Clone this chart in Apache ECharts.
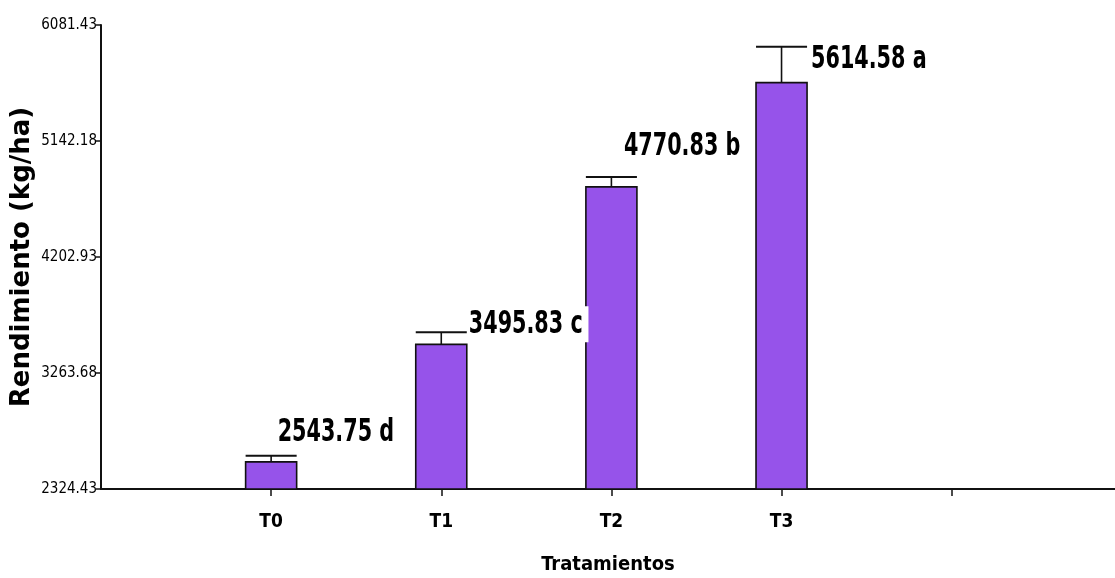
<!DOCTYPE html>
<html>
<head>
<meta charset="utf-8">
<script src="https://cdn.jsdelivr.net/npm/echarts@6/dist/echarts.min.js"></script>
<style>html,body{margin:0;padding:0;background:#fff;}#c{width:1115px;height:578px;}</style>
</head>
<body>
<div id="c"></div>
<script>
// ---- data ----
var categories = ['T0', 'T1', 'T2', 'T3'];
var categoryPos = [1, 2, 3, 4];
var means = [2543.75, 3495.83, 4770.83, 5614.58];
var errors = [49, 97, 80, 290];
var letters = ['d', 'c', 'b', 'a'];
var yTicks = [2324.43, 3263.68, 4202.93, 5142.18, 6081.43];
var xTicks = [1, 2, 3, 4, 5];

// ---- presentation ----
var NARROW = '"Liberation Sans Narrow", "DejaVu Sans Condensed", "Arial Narrow", sans-serif';
var barHalf = 0.15;
var labelOffsets = [[-19, -23], [2, -8], [-13, -30], [4, 13]];

var chart = echarts.init(document.getElementById('c'), null, {renderer: 'canvas'});

var seriesData = categoryPos.map(function (p, i) { return [p, means[i], errors[i], i]; });

chart.setOption({
  animation: false,
  backgroundColor: '#ffffff',
  grid: {left: 101, right: 0, top: 25, bottom: 89, containLabel: false, outerBoundsMode: 'none'},
  xAxis: {
    type: 'value',
    min: 0, max: 5.96,
    splitLine: {show: false},
    axisLine: {show: true, lineStyle: {color: '#111', width: 2}},
    axisTick: {show: true, customValues: xTicks, length: 7, lineStyle: {color: '#111', width: 1.5}},
    axisLabel: {
      customValues: categoryPos,
      margin: 24,
      fontFamily: NARROW, fontWeight: 'bold', fontSize: 19, color: '#000',
      formatter: function (v) { var k = categoryPos.indexOf(v); return k >= 0 ? categories[k] : ''; }
    },
    name: 'Tratamientos',
    nameLocation: 'middle',
    nameGap: 66,
    nameMoveOverlap: false,
    nameTextStyle: {fontFamily: NARROW, fontWeight: 'bold', fontSize: 20, color: '#000'}
  },
  yAxis: {
    type: 'value',
    min: yTicks[0], max: yTicks[yTicks.length - 1],
    splitLine: {show: false},
    axisLine: {show: true, lineStyle: {color: '#111', width: 2}},
    axisTick: {show: true, customValues: yTicks, length: 5, lineStyle: {color: '#111', width: 1.5}},
    axisLabel: {
      customValues: yTicks,
      margin: 4,
      fontFamily: NARROW, fontSize: 15, color: '#000',
      formatter: function (v) { return v.toFixed(2); }
    },
    name: 'Rendimiento (kg/ha)',
    nameLocation: 'middle',
    nameGap: 66,
    nameMoveOverlap: false,
    nameTextStyle: {fontFamily: '"DejaVu Sans", sans-serif', fontWeight: 'bold', fontSize: 26, color: '#000'}
  },
  series: [{
    type: 'custom',
    data: seriesData,
    clip: false,
    renderItem: function (params, api) {
      var x = api.value(0), m = api.value(1), e = api.value(2), i = api.value(3);
      var bl = api.coord([x - barHalf, m]);
      var br = api.coord([x + barHalf, yTicks[0]]);
      var top = api.coord([x, m + e]);
      var capL = api.coord([x - barHalf, m + e]);
      var capR = api.coord([x + barHalf, m + e]);
      var off = labelOffsets[i];
      return {
        type: 'group',
        children: [
          {type: 'rect', shape: {x: bl[0], y: bl[1], width: br[0] - bl[0], height: br[1] - bl[1]},
           style: {fill: '#9653ea', stroke: '#111', lineWidth: 1.6}},
          {type: 'line', shape: {x1: top[0], y1: top[1], x2: top[0], y2: bl[1]},
           style: {stroke: '#111', lineWidth: 1.6}},
          {type: 'line', shape: {x1: capL[0], y1: capL[1], x2: capR[0], y2: capR[1]},
           style: {stroke: '#111', lineWidth: 2}},
          {type: 'text', z2: 10,
           x: capR[0] + off[0], y: capR[1] + off[1],
           scaleX: 0.72,
           style: {text: means[i].toFixed(2) + ' ' + letters[i],
                   font: 'bold 32px ' + NARROW, fill: '#000',
                   align: 'left', verticalAlign: 'middle',
                   backgroundColor: '#fff', padding: [2, 8, 2, 0]}}
        ]
      };
    }
  }]
});
</script>
</body>
</html>
